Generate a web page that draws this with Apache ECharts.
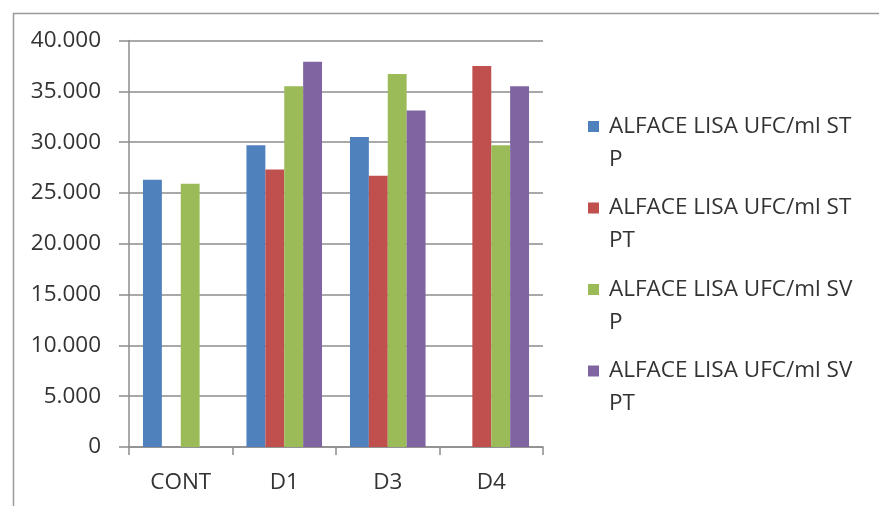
<!DOCTYPE html>
<html>
<head>
<meta charset="utf-8">
<script src="https://cdn.jsdelivr.net/npm/echarts@6/dist/echarts.min.js"></script>
<style>
html,body{margin:0;padding:0;background:#fff;}
#chart{width:879px;height:506px;}
</style>
</head>
<body>
<div id="chart"></div>
<script>
var categories = ['CONT', 'D1', 'D3', 'D4'];
var seriesNames = [
  'ALFACE LISA UFC/ml ST P',
  'ALFACE LISA UFC/ml ST PT',
  'ALFACE LISA UFC/ml SV P',
  'ALFACE LISA UFC/ml SV PT'
];
var stP  = [26300, 29700, 30500, null];
var stPT = [null, 27300, 26700, 37500];
var svP  = [25900, 35500, 36700, 29700];
var svPT = [null, 37900, 33100, 35500];
var yTicks = [0, 5000, 10000, 15000, 20000, 25000, 30000, 35000, 40000];
var colors = ['#4F81BD', '#C0504D', '#9BBB59', '#8064A2'];

var values = [stP, stPT, svP, svPT];
var FONT = 'Open Sans';
var TXT = '#333333';

function fmt(v) {
  if (v === 0) return '0';
  var s = String(Math.round(v));
  return s.replace(/\B(?=(\d{3})+(?!\d))/g, '.');
}

var chart = echarts.init(document.getElementById('chart'), null, {renderer: 'canvas'});
var option = {
  animation: false,
  backgroundColor: '#ffffff',
  color: colors,
  grid: {left: 129, right: 336, top: 40.5, bottom: 59, containLabel: false},
  graphic: [{
    type: 'rect', left: 11, top: 11, silent: true,
    shape: {width: 1000, height: 1000},
    style: {fill: 'none', stroke: '#9a9a9a', lineWidth: 1.5}
  }],
  legend: {
    orient: 'vertical',
    left: 588, top: 77,
    padding: 0,
    itemWidth: 11, itemHeight: 11,
    itemGap: -17.5,
    icon: 'rect',
    data: seriesNames,
    formatter: function (name) { return '\n' + name.replace(/ (\S+)$/, '\n$1'); },
    textStyle: {fontFamily: FONT, fontSize: 22.5, color: TXT, lineHeight: 33, padding: [0, 0, 0, 5]}
  },
  xAxis: {
    type: 'category',
    data: categories,
    axisLine: {lineStyle: {color: '#8c8c8c', width: 1.5}},
    axisTick: {show: true, length: 8, alignWithLabel: false, lineStyle: {color: '#8c8c8c', width: 1.5}},
    axisLabel: {fontFamily: FONT, fontSize: 22.5, color: TXT, margin: 24}
  },
  yAxis: {
    type: 'value',
    min: 0, max: 40000, interval: 5000,
    axisLine: {show: true, lineStyle: {color: '#8c8c8c', width: 1.5}},
    axisTick: {show: true, length: 10, lineStyle: {color: '#8c8c8c', width: 1.5}},
    splitLine: {show: true, lineStyle: {color: '#8c8c8c', width: 1.5}},
    axisLabel: {fontFamily: FONT, fontSize: 22.5, color: TXT, margin: 28,
      formatter: function (v) { return yTicks.indexOf(v) >= 0 ? fmt(v) : ''; }}
  },
  series: seriesNames.map(function (n, i) {
    return {
      name: n,
      type: 'bar',
      data: values[i],
      barGap: '0%',
      barCategoryGap: '27%',
      itemStyle: {color: colors[i]}
    };
  })
};
chart.setOption(option);
</script>
</body>
</html>
